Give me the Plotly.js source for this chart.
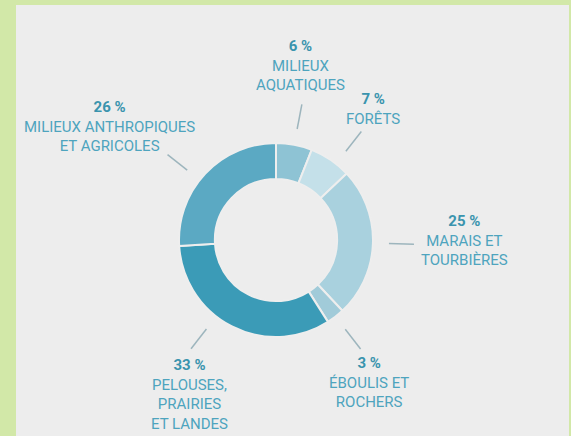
<!DOCTYPE html>
<html>
<head>
<meta charset="utf-8">
<script src="https://cdn.plot.ly/plotly-3.0.1.min.js"></script>
<style>
  html, body { margin: 0; padding: 0; background: #d2e8a8; }
  #frame { position: absolute; left: 16px; top: 5px; width: 553px; height: 431px; background: #ededed; }
  #chart { position: absolute; left: 0; top: 0; width: 571px; height: 436px; }
</style>
</head>
<body>
<div id="frame"></div>
<div id="chart"></div>
<script>
// ---- data ----
const categories = [
  "MILIEUX<br>AQUATIQUES",
  "FORÊTS",
  "MARAIS ET<br>TOURBIÈRES",
  "ÉBOULIS ET<br>ROCHERS",
  "PELOUSES,<br>PRAIRIES<br>ET LANDES",
  "MILIEUX ANTHROPIQUES<br>ET AGRICOLES"
];
const percents = [6, 7, 25, 3, 33, 26];
const sliceColors = ["#8ec3d4", "#c4e0e9", "#a9d1de", "#a1cbd9", "#3b9bb7", "#5ba9c3"];

// ---- layout constants (pixels) ----
const W = 571, H = 436;
const cx = 276, cy = 240, R = 97;
const labelPos = [[300, 66], [373, 109], [464, 240], [369, 382], [189, 394], [110, 127]];
const leaderTweak = [0, 4, 0, 0, 11, -5];
const r1 = 113, r2 = 138;

const px = x => x / W;
const py = y => 1 - y / H;

const total = percents.reduce((a, b) => a + b, 0);
let cum = 0;
const shapes = [];
const annotations = [];
percents.forEach((v, i) => {
  const mid = (cum + v / 2) / total * 360 + leaderTweak[i];
  cum += v;
  const t = mid * Math.PI / 180;
  const s = Math.sin(t), c = Math.cos(t);
  shapes.push({
    type: "line", xref: "paper", yref: "paper",
    x0: px(cx + r1 * s), y0: py(cy - r1 * c),
    x1: px(cx + r2 * s), y1: py(cy - r2 * c),
    line: { color: "#9db5bd", width: 1.5 }
  });
  annotations.push({
    xref: "paper", yref: "paper",
    x: px(labelPos[i][0]), y: py(labelPos[i][1]),
    xanchor: "center", yanchor: "middle", align: "center",
    showarrow: false,
    text: "<b><span style=\"color:#3a94ae\">" + v + " %</span></b><br>" + categories[i],
    font: { family: "Roboto, 'DejaVu Sans', sans-serif", size: 15, color: "#4ea4be" }
  });
});

const data = [{
  type: "pie",
  values: percents,
  labels: categories,
  hole: 0.63,
  sort: false,
  direction: "clockwise",
  rotation: 0,
  textinfo: "none",
  hoverinfo: "skip",
  marker: { colors: sliceColors, line: { color: "#eeeeee", width: 2 } },
  domain: { x: [px(cx - R), px(cx + R)], y: [py(cy + R), py(cy - R)] },
  showlegend: false
}];

const layout = {
  width: W, height: H,
  margin: { l: 0, r: 0, t: 0, b: 0 },
  paper_bgcolor: "rgba(0,0,0,0)",
  plot_bgcolor: "rgba(0,0,0,0)",
  shapes: shapes,
  annotations: annotations,
  showlegend: false
};

Plotly.newPlot("chart", data, layout, { displayModeBar: false, staticPlot: true });
</script>
</body>
</html>
